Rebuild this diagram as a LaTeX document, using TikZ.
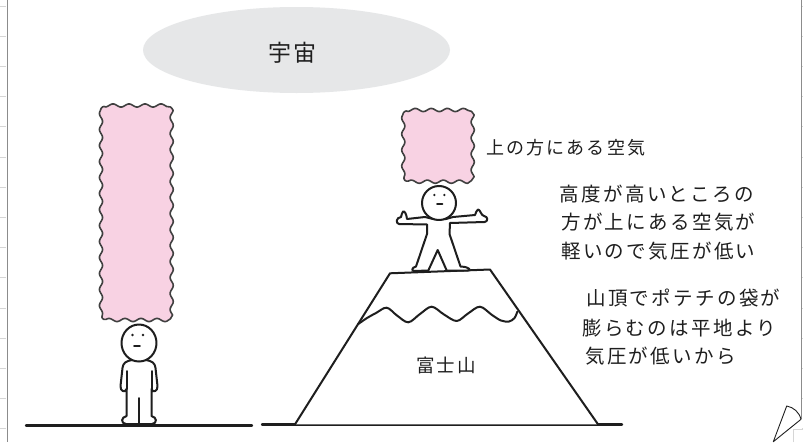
\documentclass[tikz,border=0pt]{standalone}
\usepackage{fontspec}
\newfontfamily\jp{Noto Sans CJK JP}[LetterSpace=12]
\usetikzlibrary{shapes.geometric}

\definecolor{airpink}{HTML}{F8D2E3}
\definecolor{skygray}{HTML}{E6E7E8}
\definecolor{ink}{HTML}{1E1E1E}
\definecolor{pageedge}{HTML}{8C8C8C}
\definecolor{rule}{HTML}{D6D6D6}

\tikzset{
  inkline/.style={draw=ink, line width=2pt, line cap=round, line join=round},
  figure/.style={inkline, fill=white},
  airbox/.style={fill=airpink, draw=ink!85, line width=1.6pt, line join=round},
  ground/.style={draw=ink, line width=2.4pt, line cap=round},
  note/.style={font=\jp\fontsize{19.5}{27}\selectfont, text=ink, inner sep=0pt, anchor=west},
  small note/.style={note, font=\jp\fontsize{18}{24}\selectfont},
}

% a block of air: rectangle with wavy edges, corners (#1,#2) and (#3,#4)
\newcommand{\airpatch}[6]{%
  \pgfmathsetmacro{\axa}{#1+5}\pgfmathsetmacro{\axb}{#3-5}%
  \pgfmathsetmacro{\aya}{#2+5}\pgfmathsetmacro{\ayb}{#4-5}%
  \path[airbox]
    plot[smooth, domain=\axa:\axb, samples=#5] (\x,{#2+1.6*sin((\x-#1)*22.5)})
    .. controls (#3-2,#2) and (#3,#2+2) .. ({#3+1.6*sin((\aya-#2)*22.5)},\aya)
    -- plot[smooth, domain=\aya:\ayb, samples=#6] ({#3+1.6*sin((\x-#2)*22.5)},\x)
    .. controls (#3,#4-2) and (#3-2,#4) .. (\axb,{#4+1.6*sin((\axb-#1)*22.5+90)})
    -- plot[smooth, domain=\axb:\axa, samples=#5] (\x,{#4+1.6*sin((\x-#1)*22.5+90)})
    .. controls (#1+2,#4) and (#1,#4-2) .. ({#1+1.6*sin((\ayb-#2)*22.5+90)},\ayb)
    -- plot[smooth, domain=\ayb:\aya, samples=#6] ({#1+1.6*sin((\x-#2)*22.5+90)},\x)
    .. controls (#1,#2+2) and (#1+2,#2) .. cycle;
}

\begin{document}
\begin{tikzpicture}[x=1pt, y=-1pt]
\useasboundingbox (0,0) rectangle (803,442);
\fill[white] (0,0) rectangle (803,442);

% page margins: edge rules and small tick marks
\foreach \t in {6,36.2,66.4,96.6,126.8,157,187.2,217.4,247.6,277.8,308,338.2,368.4,398.6,428.8} {
  \draw[rule, line width=0.8pt] (0,\t) -- (6,\t);
  \draw[rule, line width=0.8pt] (801.5,\t) -- (803,\t);
}
\draw[pageedge, line width=1pt] (7,0) -- (7,442);
\draw[pageedge, line width=1pt] (801,0) -- (801,419.3);
\draw[rule, line width=0.8pt] (793.3,442) -- (793.3,429.3) -- (803,429.3);
% curled page corner
\coordinate (curlA) at (786.7,406);
\coordinate (curlB) at (801,419.3);
\coordinate (curlTip) at (773.3,441.7);
\draw[ink, line width=0.9pt, line join=round, fill=white]
  (curlA) .. controls (794,407.5) and (799,412) .. (curlB) -- (curlTip) -- cycle;

% space
\node[ellipse, fill=skygray, minimum width=307pt, minimum height=86pt, inner sep=0pt] (sky) at (296.5,50) {};
\node[font=\jp\fontsize{23}{26}\selectfont, text=ink] (skylabel) at (292.5,53) {宇宙};

% ground
\coordinate (g1a) at (26,425.3);
\coordinate (g1b) at (252,425.3);
\coordinate (g2a) at (262,424.3);
\coordinate (g2b) at (622,424.3);
\draw[ground] (g1a) -- (g1b);
\draw[ground] (g2a) -- (g2b);

% ---- person on flat ground ----
\airpatch{101}{105.5}{171.7}{320}{40}{120}
\draw[figure]
  (132,360) .. controls (126,361) and (123,363) .. (122.5,368) -- (120.5,386)
  .. controls (120,391.5) and (125.5,393) .. (126.5,389) -- (126.5,416)
  .. controls (121,417) and (120.5,423.5) .. (126,424) -- (152,424)
  .. controls (157.5,423.5) and (157,417) .. (151.5,416) -- (151.5,389)
  .. controls (152.5,393) and (158,391.5) .. (157.5,386) -- (155.5,368)
  .. controls (155,363) and (152,361) .. (146,360) -- cycle;
\draw[inkline] (126.5,371) -- (126.5,389);
\draw[inkline] (151.5,371) -- (151.5,389);
\draw[inkline] (139,398) -- (139,424);
\draw[figure] (139,343) ellipse [x radius=17.5, y radius=18.5];
\fill[ink] (132.5,335) circle (1.3) (143,335) circle (1.3);
\draw[inkline, line width=1.6pt] (134,346) -- (140,346);

% ---- Mt. Fuji ----
\coordinate (baseL) at (295,424.3);
\coordinate (topL) at (390,273.3);
\coordinate (topR) at (490,269.5);
\coordinate (baseR) at (598,424.3);
\draw[figure] (baseL) -- (topL) -- (topR) -- (baseR);
\draw[inkline] plot[smooth, tension=0.55] coordinates {
  (358.3,324) (367,318) (376,313) (386.7,307.7) (397,315.5) (408.3,322.3)
  (420,314) (431.7,306.7) (444,314.5) (456.7,321) (468,313.5) (480,306.7)
  (492,315) (501,320.5) (509,321.5) (514.5,318) (517.3,311.7)};
\node[small note, anchor=center, font=\jp\fontsize{18.5}{24}\selectfont] (fuji) at (446,365) {富士山};

% ---- person on the summit ----
\airpatch{403.3}{110}{472.7}{181.7}{40}{40}
\draw[figure]
  (433,219) -- (425,217) -- (407,219)
  .. controls (406.5,214) and (404.5,210.5) .. (403,211.5)
  .. controls (401.5,212.5) and (402,215.5) .. (401,217)
  .. controls (396,217.5) and (395.5,223.5) .. (399,224) -- (427,224.5) -- (427,234)
  -- (416,266.5) .. controls (411.5,267.5) and (411.5,271) .. (414,271) -- (428.3,270.5)
  -- (437.7,250) -- (446.7,270.5) -- (468,270.5)
  .. controls (471,270.5) and (470.5,267) .. (460.5,266.5) -- (449.5,234)
  -- (450,223) -- (484.5,222)
  .. controls (488.5,221.5) and (488,216.5) .. (484,216)
  .. controls (481,215.5) and (480,209) .. (478,209.5)
  .. controls (476,210) and (476.5,213) .. (475,215) -- (453,217) -- (446,219) -- cycle;
\draw[figure] (439,203) circle (17);
\fill[ink] (434.3,195) circle (1.3) (444.3,195) circle (1.3);
\draw[inkline, line width=1.6pt] (437,204) -- (442.5,204);

% ---- notes ----
\node[small note] (upperair) at (486,147.5) {上の方にある空気};
\node[note] (n1) at (559.5,194.5) {高度が高いところの};
\node[note] (n2) at (561,222.5) {方が上にある空気が};
\node[note] (n3) at (561,251) {軽いので気圧が低い};
\node[note] (n4) at (586,298.5) {山頂でポテチの袋が};
\node[note] (n5) at (582,328) {膨らむのは平地より};
\node[note] (n6) at (585,356) {気圧が低いから};
\end{tikzpicture}
\end{document}
